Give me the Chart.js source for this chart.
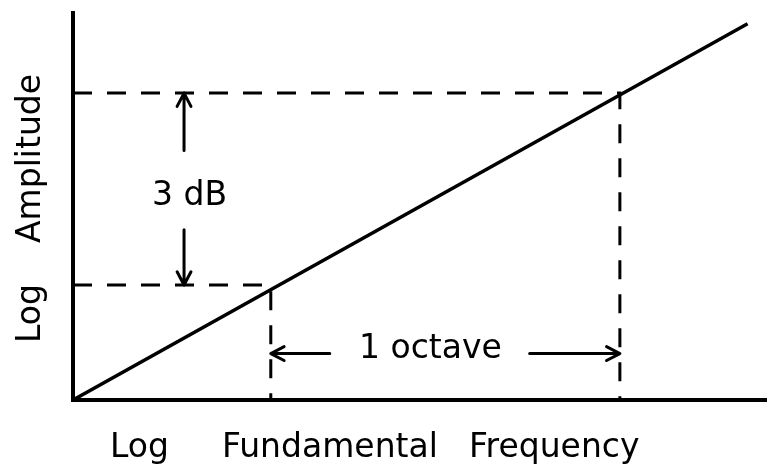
<!DOCTYPE html>
<html>
<head>
<meta charset="utf-8">
<script src="https://cdn.jsdelivr.net/npm/chart.js@4"></script>
<style>
  html, body { margin: 0; padding: 0; background: #fff; }
  #wrap { width: 767px; height: 468px; }
</style>
</head>
<body>
<div id="wrap"><canvas id="chart" width="767" height="468"></canvas></div>
<script>
// response line (log freq vs log amplitude), straight through the origin
const responseX = [0, 9.72];
const responseY = [0, 9.72];
// two frequencies one octave apart and their levels (3 dB apart)
const octaveX = [2.85, 7.88];
const levelY = [2.97, 7.93];
// annotation positions in data units
const dbArrowX = 1.6;
const dbArrowEnds = [6.45, 4.4];
const octaveArrowY = 1.2;
const octaveArrowEnds = [3.7, 6.58];
const dbLabel = '3 dB';
const dbLabelAt = [1.68, 5.04];
const octaveLabel = '1 octave';
const octaveLabelAt = [5.15, 1.08];
// axis titles, word by word (the original lettering is widely spaced)
const xTitleWords = ['Log', 'Fundamental', 'Frequency'];
const xTitleStarts = [110, 222, 469];
const yTitleWords = ['Log', 'Amplitude'];
const yTitleStarts = [343, 243];

const FONT = '33px "DejaVu Sans", sans-serif';

function arrow(ctx, x1, y1, x2, y2) {
  // shaft from (x1,y1) to tip (x2,y2), open V head
  const a = Math.atan2(y2 - y1, x2 - x1);
  const len = 15, spread = 0.48;
  ctx.beginPath();
  ctx.moveTo(x1, y1);
  ctx.lineTo(x2, y2);
  ctx.moveTo(x2 - len * Math.cos(a - spread), y2 - len * Math.sin(a - spread));
  ctx.lineTo(x2, y2);
  ctx.lineTo(x2 - len * Math.cos(a + spread), y2 - len * Math.sin(a + spread));
  ctx.stroke();
}

const annotations = {
  id: 'annotations',
  afterDatasetsDraw(chart) {
    const ctx = chart.ctx;
    const xs = chart.scales.x, ys = chart.scales.y;
    ctx.save();
    ctx.strokeStyle = '#000';
    ctx.fillStyle = '#000';
    ctx.lineWidth = 3;
    ctx.lineCap = 'round';
    ctx.lineJoin = 'round';

    // 3 dB arrows
    const ax = xs.getPixelForValue(dbArrowX);
    arrow(ctx, ax, ys.getPixelForValue(dbArrowEnds[0]), ax, ys.getPixelForValue(levelY[1]));
    arrow(ctx, ax, ys.getPixelForValue(dbArrowEnds[1]), ax, ys.getPixelForValue(levelY[0]));

    // octave arrows
    const ay = ys.getPixelForValue(octaveArrowY);
    arrow(ctx, xs.getPixelForValue(octaveArrowEnds[0]), ay, xs.getPixelForValue(octaveX[0]), ay);
    arrow(ctx, xs.getPixelForValue(octaveArrowEnds[1]), ay, xs.getPixelForValue(octaveX[1]), ay);

    ctx.font = FONT;
    ctx.textBaseline = 'alphabetic';
    ctx.textAlign = 'center';
    ctx.fillText(dbLabel, xs.getPixelForValue(dbLabelAt[0]), ys.getPixelForValue(dbLabelAt[1]));
    ctx.fillText(octaveLabel, xs.getPixelForValue(octaveLabelAt[0]), ys.getPixelForValue(octaveLabelAt[1]));

    // axis titles
    ctx.textAlign = 'left';
    xTitleWords.forEach((w, i) => ctx.fillText(w, xTitleStarts[i], 457));
    ctx.translate(40, 0);
    ctx.rotate(-Math.PI / 2);
    yTitleWords.forEach((w, i) => ctx.fillText(w, -yTitleStarts[i], 0));
    ctx.restore();
  }
};

const dashStyle = {
  borderColor: '#000',
  borderWidth: 3,
  borderDash: [19, 15],
  pointRadius: 0,
  fill: false,
  tension: 0
};

new Chart(document.getElementById('chart'), {
  type: 'scatter',
  data: {
    datasets: [
      {
        data: responseX.map((x, i) => ({ x, y: responseY[i] })),
        showLine: true,
        borderColor: '#000',
        borderWidth: 3.5,
        pointRadius: 0,
        tension: 0
      },
      Object.assign({
        data: [{ x: 0, y: levelY[0] }, { x: octaveX[0], y: levelY[0] }, { x: octaveX[0], y: 0 }],
        showLine: true
      }, dashStyle),
      Object.assign({
        data: [{ x: 0, y: levelY[1] }, { x: octaveX[1], y: levelY[1] }, { x: octaveX[1], y: 0 }],
        showLine: true
      }, dashStyle)
    ]
  },
  options: {
    responsive: false,
    animation: false,
    layout: { padding: { left: 73, top: 13, right: 0, bottom: 68 } },
    plugins: {
      legend: { display: false },
      tooltip: { enabled: false }
    },
    scales: {
      x: {
        type: 'linear',
        min: 0,
        max: 10,
        ticks: { display: false },
        grid: { display: false, drawTicks: false },
        border: { display: true, color: '#000', width: 4 }
      },
      y: {
        type: 'linear',
        min: 0,
        max: 10,
        ticks: { display: false },
        grid: { display: false, drawTicks: false },
        border: { display: true, color: '#000', width: 4 }
      }
    }
  },
  plugins: [annotations]
});
</script>
</body>
</html>
